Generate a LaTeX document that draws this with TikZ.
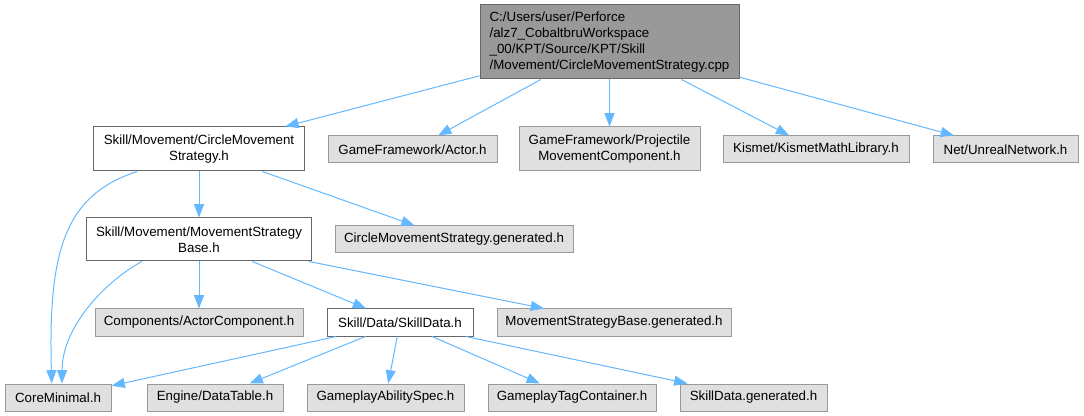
\documentclass[tikz,border=0pt]{standalone}
\usepackage{fontspec}
\setmainfont{Liberation Sans}
\usetikzlibrary{arrows.meta}
\usepackage{xcolor}
\definecolor{inclblue}{HTML}{63B8FF}
\definecolor{rootgray}{HTML}{999999}
\definecolor{extgray}{HTML}{E0E0E0}

\begin{document}
\begin{tikzpicture}[
  x=0.75pt, y=-0.75pt,
  font=\fontsize{10}{12}\selectfont,
  hdr/.style={draw=black!60, fill=white, line width=0.75pt, inner sep=0pt, minimum height=20.25pt, align=center},
  exthdr/.style={hdr, draw=rootgray, fill=extgray},
  srcfile/.style={hdr, fill=rootgray, align=left},
  incl/.style={-{Triangle[length=10pt,width=7.5pt]}, draw=inclblue, line width=0.75pt},
]
\useasboundingbox (0,0) rectangle (1084,416);

% Source file on top
\node[srcfile, minimum width=194.25pt, minimum height=55.5pt] (cpp) at (609.5,42)
  {C:/Users/user/Perforce\\/alz7\_CobaltbruWorkspace\\\_00/KPT/Source/KPT/Skill\\/Movement/CircleMovementStrategy.cpp};

% Direct includes
\node[hdr, minimum width=158.25pt, minimum height=33pt] (cmsh) at (199,149) {Skill/Movement/CircleMovement\\Strategy.h};
\node[exthdr, minimum width=126.75pt] (actor) at (412.5,149.5) {GameFramework/Actor.h};
\node[exthdr, minimum width=135.75pt, minimum height=33pt] (proj) at (609.5,149) {GameFramework/Projectile\\MovementComponent.h};
\node[exthdr, minimum width=139.5pt] (kismet) at (816,149.5) {Kismet/KismetMathLibrary.h};
\node[exthdr, minimum width=108.75pt] (net) at (1005.5,149.5) {Net/UnrealNetwork.h};

% Second level
\node[hdr, minimum width=168.75pt, minimum height=32.25pt] (msbh) at (199,239.5) {Skill/Movement/MovementStrategy\\Base.h};
\node[exthdr, minimum width=178.5pt] (cmsgen) at (454,239.5) {CircleMovementStrategy.generated.h};

% Third level
\node[exthdr, minimum width=156pt] (actcomp) at (199,322.5) {Components/ActorComponent.h};
\node[hdr, minimum width=109.5pt] (skilldata) at (400,322.5) {Skill/Data/SkillData.h};
\node[exthdr, minimum width=175.5pt] (msbgen) at (614,322.5) {MovementStrategyBase.generated.h};

% Bottom row
\node[exthdr, minimum width=79.5pt] (coremin) at (58,397.5) {CoreMinimal.h};
\node[exthdr, minimum width=102pt] (datatable) at (215,397.5) {Engine/DataTable.h};
\node[exthdr, minimum width=117.75pt] (abilityspec) at (385.5,397.5) {GameplayAbilitySpec.h};
\node[exthdr, minimum width=126pt] (tagcont) at (572,397.5) {GameplayTagContainer.h};
\node[exthdr, minimum width=110.25pt] (sdgen) at (753.5,397.5) {SkillData.generated.h};

% Straight includes
\foreach \a/\b in {cpp/cmsh, cpp/actor, cpp/proj, cpp/kismet, cpp/net,
                   cmsh/msbh, cmsh/cmsgen,
                   msbh/actcomp, msbh/skilldata, msbh/msbgen,
                   skilldata/coremin, skilldata/datatable, skilldata/abilityspec, skilldata/tagcont, skilldata/sdgen}
  \draw[incl] (\a) -- (\b);

% Curved includes down to CoreMinimal.h
\draw[incl] (cmsh.200) .. controls (65,195) and (48,250) .. (coremin.114);
\draw[incl] (msbh.201) .. controls (100,285) and (62,330) .. (coremin.74);

\end{tikzpicture}
\end{document}
